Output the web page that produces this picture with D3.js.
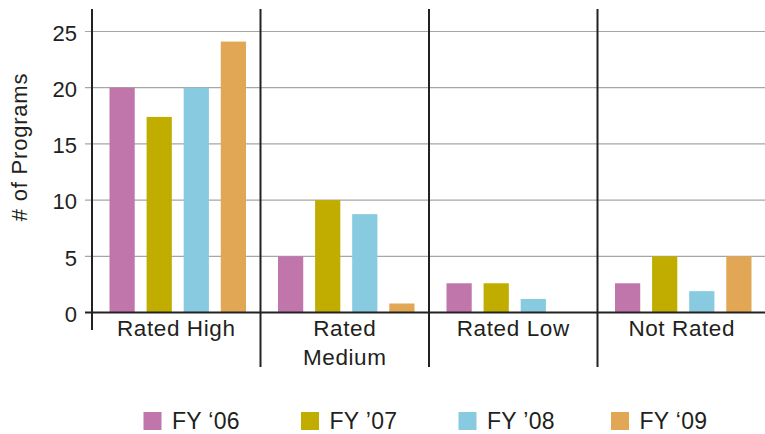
<!DOCTYPE html>
<html>
<head>
<meta charset="utf-8">
<script src="https://cdn.jsdelivr.net/npm/d3@7"></script>
<style>
  html, body { margin: 0; padding: 0; background: #fff; }
  svg { display: block; font-family: "Liberation Sans", Arial, Helvetica, sans-serif; }
</style>
</head>
<body>
<svg id="chart" width="765" height="434"></svg>
<script>
// Program ratings by fiscal year
const categories = ["Rated High", "Rated Medium", "Rated Low", "Not Rated"];
const categoryLines = [["Rated High"], ["Rated", "Medium"], ["Rated Low"], ["Not Rated"]];
const seriesNames = ["FY \u201806", "FY \u201907", "FY \u201908", "FY \u201809"];
const fy06 = [20, 5, 2.6, 2.6];
const fy07 = [17.4, 10, 2.6, 5];
const fy08 = [20, 8.75, 1.2, 1.9];
const fy09 = [24.1, 0.8, 0, 5];
const seriesColors = ["#c076ab", "#c0ad00", "#88cbe0", "#e2a755"];
const yTicks = [0, 5, 10, 15, 20, 25];

const series = [fy06, fy07, fy08, fy09];

const svg = d3.select("#chart");
const plotLeft = 92, plotRight = 766, plotTop = 9, zeroY = 312.5;
const textColor = "#231f20";

const x0 = d3.scaleBand().domain(categories).range([plotLeft, plotRight]).padding(0);
const x1 = d3.scaleBand().domain(d3.range(series.length))
  .range([17.5, 154]).paddingInner(0.32).paddingOuter(0);
const y = d3.scaleLinear().domain([0, 27]).range([zeroY, plotTop]);

// horizontal gridlines
svg.append("g").selectAll("line")
  .data(yTicks.filter(d => d > 0))
  .join("line")
  .attr("x1", plotLeft - 7).attr("x2", plotRight)
  .attr("y1", d => y(d)).attr("y2", d => y(d))
  .attr("stroke", "#a6a6a6").attr("stroke-width", 1.2);

// bars
const groups = svg.append("g").selectAll("g")
  .data(categories)
  .join("g")
  .attr("transform", d => `translate(${x0(d)},0)`);

groups.selectAll("rect")
  .data((d, i) => series.map((s, j) => ({ j, v: s[i] })))
  .join("rect")
  .attr("x", d => x1(d.j))
  .attr("width", x1.bandwidth())
  .attr("y", d => y(d.v))
  .attr("height", d => y(0) - y(d.v))
  .attr("fill", d => seriesColors[d.j]);

// zero baseline
svg.append("line")
  .attr("x1", plotLeft - 7).attr("x2", plotRight)
  .attr("y1", y(0)).attr("y2", y(0))
  .attr("stroke", "#222").attr("stroke-width", 2);

// y axis line
svg.append("line")
  .attr("x1", plotLeft).attr("x2", plotLeft)
  .attr("y1", plotTop).attr("y2", 330)
  .attr("stroke", "#222").attr("stroke-width", 2);

// group dividers
svg.append("g").selectAll("line")
  .data(categories.slice(1))
  .join("line")
  .attr("x1", d => x0(d)).attr("x2", d => x0(d))
  .attr("y1", plotTop).attr("y2", 367)
  .attr("stroke", "#222").attr("stroke-width", 2);

// y tick labels
svg.append("g").selectAll("text")
  .data(yTicks)
  .join("text")
  .attr("x", 77)
  .attr("y", d => y(d))
  .attr("dy", "0.42em")
  .attr("text-anchor", "end")
  .attr("font-size", 22)
  .attr("fill", textColor)
  .text(d => d);

// y axis title
svg.append("text")
  .attr("transform", "translate(26.5,147) rotate(-90)")
  .attr("text-anchor", "middle")
  .attr("font-size", 22)
  .attr("letter-spacing", 0.8)
  .attr("fill", textColor)
  .text("# of Programs");

// category labels
const catLabels = svg.append("g").selectAll("text")
  .data(categories)
  .join("text")
  .attr("text-anchor", "middle")
  .attr("font-size", 22.5)
  .attr("letter-spacing", 0.6)
  .attr("fill", textColor);
catLabels.selectAll("tspan")
  .data((d, i) => categoryLines[i].map(line => ({ line, c: d })))
  .join("tspan")
  .attr("x", d => x0(d.c) + x0.bandwidth() / 2)
  .attr("y", (d, k) => 335.5 + k * 29.5)
  .text(d => d.line);

// legend
const legendX = [143.5, 301, 458.5, 611];
const legend = svg.append("g").selectAll("g")
  .data(seriesNames)
  .join("g")
  .attr("transform", (d, i) => `translate(${legendX[i]},412)`);
legend.append("rect")
  .attr("width", 18).attr("height", 18)
  .attr("fill", (d, i) => seriesColors[i]);
legend.append("text")
  .attr("x", 28.5).attr("y", 17)
  .attr("font-size", 23)
  .attr("letter-spacing", 0.3)
  .attr("fill", textColor)
  .text(d => d);
</script>
</body>
</html>
